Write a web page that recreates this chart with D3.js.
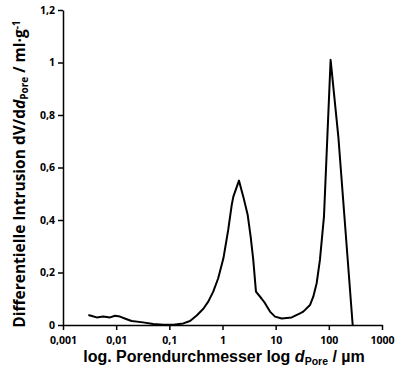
<!DOCTYPE html>
<html>
<head>
<meta charset="utf-8">
<script src="https://cdn.jsdelivr.net/npm/d3@7"></script>
<style>
  body { margin: 0; background: #fff; }
  svg { display: block; }
  .tick text { font-family: "Open Sans", sans-serif; font-weight: bold; font-size: 10.5px; fill: #000; }
</style>
</head>
<body>
<script>
// pore diameter (µm) and differential intrusion (ml/g)
const poreDiameter = [0.0030, 0.0035, 0.0043, 0.0057, 0.0077, 0.0095, 0.0118, 0.0158, 0.0196, 0.032,
  0.050, 0.077, 0.119, 0.183, 0.245, 0.327, 0.436, 0.54, 0.67, 0.83,
  1.04, 1.28, 1.49, 1.60, 2.04, 2.46, 2.98, 3.39, 3.79, 4.26,
  5.46, 6.30, 7.82, 9.71, 13.0, 20.0, 28.7, 33.1, 44.2, 51,
  59, 68, 81, 108, 151, 281];
const intrusion = [0.038, 0.034, 0.029, 0.032, 0.029, 0.035, 0.032, 0.022, 0.015, 0.010,
  0.004, 0.001, 0.001, 0.006, 0.015, 0.036, 0.062, 0.089, 0.127, 0.178,
  0.254, 0.362, 0.457, 0.489, 0.55, 0.489, 0.419, 0.336, 0.248, 0.127,
  0.10, 0.083, 0.051, 0.032, 0.025, 0.029, 0.044, 0.051, 0.076, 0.108,
  0.159, 0.248, 0.413, 1.01, 0.717, 0];

const xTicks = [0.001, 0.01, 0.1, 1, 10, 100, 1000];
const xTickLabels = ["0,001", "0,01", "0,1", "1", "10", "100", "1000"];
const yTicks = [0, 0.2, 0.4, 0.6, 0.8, 1, 1.2];

const width = 395, height = 372;
const svg = d3.select("body").append("svg")
  .attr("width", width)
  .attr("height", height);

const x = d3.scaleLog().domain([0.001, 1000]).range([63, 382]);
const y = d3.scaleLinear().domain([0, 1.2]).range([325, 10]);

const fmt = (d) => String(+d.toFixed(3)).replace(".", ",");

const xAxis = svg.append("g")
  .attr("transform", `translate(0,${y(0)})`)
  .call(d3.axisBottom(x).tickValues(xTicks)
    .tickFormat((d, i) => xTickLabels[i]).tickSize(5).tickSizeOuter(0));
xAxis.selectAll("text").attr("dy", "1.05em");

const yAxis = svg.append("g")
  .attr("transform", `translate(${x(0.001)},0)`)
  .call(d3.axisLeft(y).tickValues(yTicks).tickFormat(fmt).tickSize(5).tickSizeOuter(0));
yAxis.selectAll("text").attr("x", -8);

svg.selectAll(".domain, .tick line")
  .attr("stroke", "#000")
  .attr("stroke-width", 1.5);

const data = poreDiameter.map((d, i) => ({ d, v: intrusion[i] }));
svg.append("path")
  .datum(data)
  .attr("fill", "none")
  .attr("stroke", "#000")
  .attr("stroke-width", 2)
  .attr("stroke-linejoin", "round")
  .attr("d", d3.line().x((p) => x(p.d)).y((p) => y(p.v)));

// x axis title
const xt = svg.append("text")
  .attr("x", 224)
  .attr("y", 362)
  .attr("text-anchor", "middle")
  .style("font-family", "'Liberation Sans', Arial, sans-serif")
  .style("font-weight", "bold")
  .style("font-size", "16px");
xt.append("tspan").text("log. Porendurchmesser log ");
xt.append("tspan").style("font-style", "italic").text("d");
xt.append("tspan").attr("dy", 3).style("font-size", "10.5px").text("Pore");
xt.append("tspan").attr("dy", -3).text(" / µm");

// y axis title
const yt = svg.append("text")
  .attr("transform", `translate(25,${174}) rotate(-90)`)
  .attr("text-anchor", "middle")
  .style("font-family", "'Open Sans', sans-serif")
  .style("font-weight", "bold")
  .style("font-size", "15.5px");
yt.append("tspan").text("Differentielle Intrusion dV/d");
yt.append("tspan").style("font-style", "italic").text("d");
yt.append("tspan").attr("dy", 3).style("font-size", "10px").text("Pore");
yt.append("tspan").attr("dy", -3).text(" / ml·g");
yt.append("tspan").attr("dy", -5).style("font-size", "10px").text("-1");
</script>
</body>
</html>
